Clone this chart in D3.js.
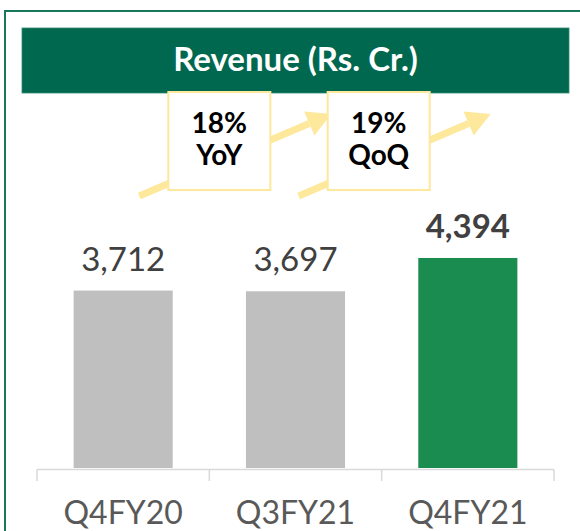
<!DOCTYPE html>
<html>
<head>
<meta charset="utf-8">
<script src="https://cdn.jsdelivr.net/npm/d3@7"></script>
<style>
  body { margin: 0; background: #fff; }
  svg { display: block; font-family: Lato, "Open Sans", sans-serif; }
</style>
</head>
<body>
<svg id="chart" width="580" height="531"></svg>
<script>
// data
const categories = ["Q4FY20", "Q3FY21", "Q4FY21"];
const revenue = [3712, 3697, 4394];
const valueLabels = ["3,712", "3,697", "4,394"];
const growthTop = ["18%", "19%"];
const growthBottom = ["YoY", "QoQ"];

const svg = d3.select("#chart");

// outer frame
svg.append("rect")
  .attr("x", 5).attr("y", 11)
  .attr("width", 640).attr("height", 600)
  .attr("fill", "none")
  .attr("stroke", "#17785b")
  .attr("stroke-width", 2);

// title banner
svg.append("rect")
  .attr("x", 22).attr("y", 28)
  .attr("width", 547).attr("height", 65)
  .attr("fill", "#00684f")
  .attr("stroke", "#2f8a70")
  .attr("stroke-width", 0.8);

svg.append("text")
  .attr("x", 295.5).attr("y", 71)
  .attr("text-anchor", "middle")
  .attr("fill", "#fff")
  .attr("font-weight", "bold")
  .attr("font-size", 33)
  .text("Revenue (Rs. Cr.)");

// scales
const x = d3.scaleBand()
  .domain(categories)
  .range([37, 554])
  .paddingInner(0.425)
  .paddingOuter(0.2125);

const y = d3.scaleLinear()
  .domain([0, 5000])
  .range([468, 229]);

// bars
svg.append("g")
  .selectAll("rect")
  .data(categories)
  .join("rect")
  .attr("x", d => x(d))
  .attr("y", (d, i) => y(revenue[i]))
  .attr("width", x.bandwidth())
  .attr("height", (d, i) => y(0) - y(revenue[i]))
  .attr("fill", (d, i) => i == categories.length - 1 ? "#1b8c50" : "#bfbfbf");

// category axis (Excel style, ticks at category boundaries)
const axis = svg.append("g").attr("stroke", "#d9d9d9").attr("stroke-width", 1.5);
const x0 = x.range()[0], step = x.step();
axis.append("line")
  .attr("x1", x0).attr("x2", x.range()[1])
  .attr("y1", y(0) + 1.5).attr("y2", y(0) + 1.5);
axis.selectAll(".tick")
  .data(d3.range(categories.length + 1))
  .join("line")
  .attr("class", "tick")
  .attr("x1", i => x0 + i * step).attr("x2", i => x0 + i * step)
  .attr("y1", y(0) + 1.5).attr("y2", y(0) + 13);

svg.append("g")
  .selectAll("text")
  .data(categories)
  .join("text")
  .attr("x", d => x(d) + x.bandwidth() / 2)
  .attr("y", 524)
  .attr("text-anchor", "middle")
  .attr("fill", "#595959")
  .attr("font-size", 32)
  .text(d => d);

// value labels
svg.append("g")
  .selectAll("text")
  .data(categories)
  .join("text")
  .attr("x", d => x(d) + x.bandwidth() / 2)
  .attr("y", (d, i) => y(revenue[i]) - 20)
  .attr("text-anchor", "middle")
  .attr("fill", "#404040")
  .attr("font-size", 33)
  .attr("font-weight", (d, i) => i == categories.length - 1 ? "bold" : "normal")
  .text((d, i) => valueLabels[i]);

// growth arrows + boxes, sitting over the boundaries between bars
const arrowColor = "#fde89c";
const growth = svg.append("g");
const offsets = [10, -3];
growthTop.forEach((t, i) => {
  const cx = x0 + (i + 1) * step + offsets[i];
  const x1 = cx - 80, y1 = 196, x2 = cx + 112, y2 = 114;
  const ang = Math.atan2(y2 - y1, x2 - x1);
  const headLen = 24, headW = 13;
  const bx = x2 - headLen * Math.cos(ang), by = y2 - headLen * Math.sin(ang);
  growth.append("line")
    .attr("x1", x1).attr("y1", y1)
    .attr("x2", bx).attr("y2", by)
    .attr("stroke", arrowColor)
    .attr("stroke-width", 7);
  growth.append("path")
    .attr("d", d3.line()([
      [x2, y2],
      [bx + headW * Math.sin(ang), by - headW * Math.cos(ang)],
      [bx - headW * Math.sin(ang), by + headW * Math.cos(ang)]
    ]) + "Z")
    .attr("fill", arrowColor);
  growth.append("rect")
    .attr("x", cx - 51).attr("y", 92)
    .attr("width", 102).attr("height", 98)
    .attr("fill", "#fff")
    .attr("stroke", arrowColor)
    .attr("stroke-width", 2);
  growth.append("text")
    .attr("x", cx).attr("y", 133)
    .attr("text-anchor", "middle")
    .attr("font-weight", "bold")
    .attr("font-size", 28)
    .attr("fill", "#000")
    .text(t);
  growth.append("text")
    .attr("x", cx).attr("y", 165)
    .attr("text-anchor", "middle")
    .attr("font-weight", "bold")
    .attr("font-size", 28)
    .attr("fill", "#000")
    .text(growthBottom[i]);
});
</script>
</body>
</html>
